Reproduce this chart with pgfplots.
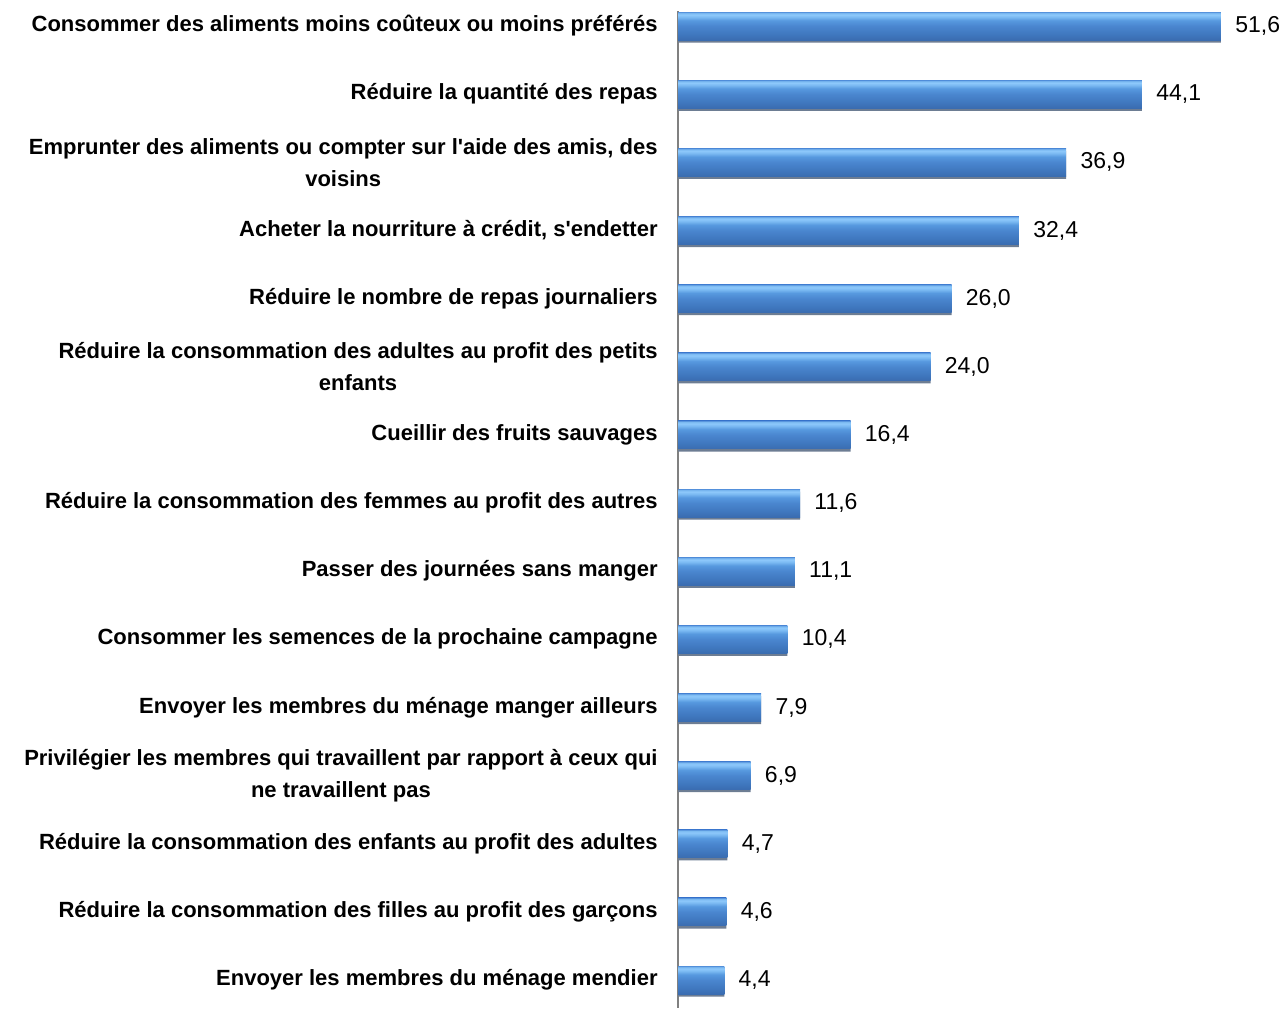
\documentclass[border=0pt]{standalone}
\usepackage{fontspec}
\setmainfont{Liberation Sans}
\usepackage{pgfplots}
\usepackage{pgfplotstable}
\pgfplotsset{compat=1.18}

\definecolor{barshadow}{HTML}{6D7D93}
\definecolor{bs1}{HTML}{3A6CB0}
\definecolor{bs2}{HTML}{3F77BE}
\definecolor{bs3}{HTML}{4A86CF}
\definecolor{bs4}{HTML}{5799DF}
\definecolor{bs5}{HTML}{7AB9F2}
\definecolor{bs6}{HTML}{8DC8FB}
\definecolor{bs7}{HTML}{7DBBF2}
\definecolor{bs8}{HTML}{5592DC}
\pgfdeclareverticalshading{barshade}{100bp}{%
  color(0bp)=(bs1); color(25bp)=(bs1); color(35bp)=(bs2); color(50bp)=(bs3);
  color(60bp)=(bs4); color(66bp)=(bs5); color(70bp)=(bs6); color(73bp)=(bs7);
  color(75bp)=(bs8); color(100bp)=(bs8)}

\pgfplotstableread{
val pos
51.6 0
44.1 1
36.9 2
32.4 3
26.0 4
24.0 5
16.4 6
11.6 7
11.1 8
10.4 9
7.9 10
6.9 11
4.7 12
4.6 13
4.4 14
}\strategies

\begin{document}
\begin{tikzpicture}
\useasboundingbox (0,0) rectangle (642pt,-504pt);
\begin{axis}[
    at={(339pt,-5.5pt)}, anchor=north west,
    scale only axis,
    width=303pt, height=498.5pt,
    xbar, bar width=14pt,
    xmin=0, xmax=57.6,
    ymin=-0.22, ymax=14.41,
    y dir=reverse,
    axis x line=none,
    axis y line*=left,
    y axis line style={draw=gray, line width=0.9pt},
    xtick=\empty,
    ytick={0,...,14},
    major tick length=0pt,
    yticklabels={
      Consommer des aliments moins coûteux ou moins préférés,
      Réduire la quantité des repas,
      {Emprunter des aliments ou compter sur l\textquotesingle aide des amis, des\\voisins},
      {Acheter la nourriture à crédit, s\textquotesingle endetter},
      Réduire le nombre de repas journaliers,
      Réduire la consommation des adultes au profit des petits\\enfants,
      Cueillir des fruits sauvages,
      Réduire la consommation des femmes au profit des autres,
      Passer des journées sans manger,
      Consommer les semences de la prochaine campagne,
      Envoyer les membres du ménage manger ailleurs,
      Privilégier les membres qui travaillent par rapport à ceux qui\\ne travaillent pas,
      Réduire la consommation des enfants au profit des adultes,
      Réduire la consommation des filles au profit des garçons,
      Envoyer les membres du ménage mendier},
    yticklabel style={align=center, inner sep=0pt, xshift=-10pt,
      font=\bfseries\fontsize{11}{16}\selectfont},
    clip=false,
    every axis plot/.append style={draw=none},
    /pgf/number format/.cd, fixed, fixed zerofill, precision=1, use comma,
      assume math mode=true,
]
% shadow under each bar
\addplot[fill=barshadow, bar shift=-1.3pt] table[x=val, y=pos] {\strategies};
% one plot per bar so that each bar gets its own gradient
\pgfplotsinvokeforeach{0,...,14}{
  \addplot[shading=barshade, bar shift=0pt,
      restrict y to domain=#1:#1,
      nodes near coords,
      every node near coord/.append style={anchor=west, inner sep=0pt, xshift=7pt,
        font=\fontsize{11.5}{13}\selectfont, text=black}]
    table[x=val, y=pos] {\strategies};
}
\end{axis}
\end{tikzpicture}
\end{document}
